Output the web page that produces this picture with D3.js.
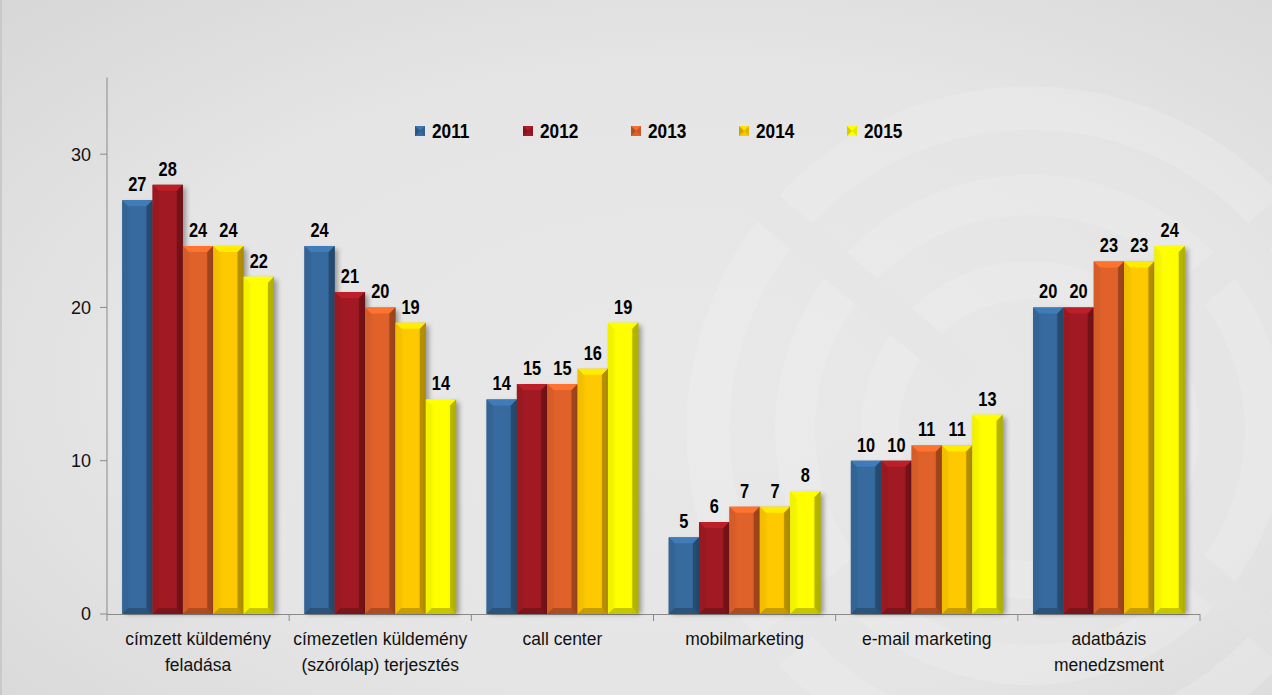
<!DOCTYPE html>
<html><head><meta charset="utf-8">
<script src="https://cdnjs.cloudflare.com/ajax/libs/d3/7.8.5/d3.min.js"></script>
<style>
html,body{margin:0;padding:0;background:#e6e6e6;overflow:hidden}
svg{display:block}
</style></head>
<body>
<svg id="chart" width="1272" height="695"></svg>
<script>
const categories = [
  ["címzett küldemény","feladása"],
  ["címezetlen küldemény","(szórólap) terjesztés"],
  ["call center"],
  ["mobilmarketing"],
  ["e-mail marketing"],
  ["adatbázis","menedzsment"]
];
const years = ["2011","2012","2013","2014","2015"];
const v2011 = [27,24,14,5,10,20];
const v2012 = [28,21,15,6,10,20];
const v2013 = [24,20,15,7,11,23];
const v2014 = [24,19,16,7,11,23];
const v2015 = [22,14,19,8,13,24];
const series = [v2011,v2012,v2013,v2014,v2015];
const colors = ["#376a9e","#a11a23","#e0622a","#ffc900","#ffff00"];
const yTicks = [0,10,20,30];

const W=1272,H=695;
const svg=d3.select("#chart");
const defs=svg.append("defs");

// background
const bg=defs.append("radialGradient").attr("id","bg").attr("cx","0.55").attr("cy","0.55").attr("r","0.75");
bg.append("stop").attr("offset","0").attr("stop-color","#e8e8e8");
bg.append("stop").attr("offset","0.6").attr("stop-color","#e5e5e5");
bg.append("stop").attr("offset","1").attr("stop-color","#d8d8d8");
svg.append("rect").attr("width",W).attr("height",H).attr("fill","url(#bg)");
svg.append("rect").attr("x",0).attr("y",0).attr("width",2).attr("height",H).attr("fill","#c9c9c9");

// faint logo rings
const logo=svg.append("g").attr("opacity",0.3);
const cx=1030, cy=430;
[[322,43],[235,40],[150,38]].forEach(([r,w])=>{
  logo.append("circle").attr("cx",cx).attr("cy",cy).attr("r",r).attr("fill","none")
    .attr("stroke","#f2f2f2").attr("stroke-width",w);
});
[[-1,-1],[1,-1],[-1,1],[1,1]].forEach(([dx,dy])=>{
  logo.append("line").attr("x1",cx+dx*60).attr("y1",cy+dy*50).attr("x2",cx+dx*330).attr("y2",cy+dy*280)
    .attr("stroke","#e6e6e6").attr("stroke-width",34);
});

// scales
const x0=d3.scaleBand().domain(d3.range(categories.length)).range([107,1200]).paddingInner(0).paddingOuter(0);
const x1=d3.scaleBand().domain(d3.range(years.length)).range([0,x0.bandwidth()]).paddingOuter(0.5).paddingInner(0.0);
const y=d3.scaleLinear().domain([0,35]).range([614,77.5]);

// shadow filter
const f=defs.append("filter").attr("id","sh").attr("x","-50%").attr("y","-10%").attr("width","200%").attr("height","120%");
f.append("feGaussianBlur").attr("stdDeviation",2.5);

// gradients per series
colors.forEach((c,i)=>{
  const g=defs.append("linearGradient").attr("id","g"+i).attr("x1","0").attr("x2","1").attr("y1","0").attr("y2","0");
  const cc=d3.color(c);
  g.append("stop").attr("offset","0").attr("stop-color",cc.darker(0.2));
  g.append("stop").attr("offset","0.3").attr("stop-color",c);
  g.append("stop").attr("offset","0.75").attr("stop-color",c);
  g.append("stop").attr("offset","1").attr("stop-color",cc.darker(0.8));
});

// y axis
const ax=svg.append("g").attr("font-family","Liberation Sans, Arial, sans-serif");
ax.append("line").attr("x1",107).attr("x2",107).attr("y1",y(35)).attr("y2",y(0)).attr("stroke","#8a8a8a").attr("stroke-width",1);
yTicks.forEach(t=>{
  ax.append("line").attr("x1",100).attr("x2",107).attr("y1",y(t)).attr("y2",y(t)).attr("stroke","#8a8a8a");
  ax.append("text").attr("x",91).attr("y",y(t)).attr("dy","0.36em").attr("text-anchor","end")
    .attr("font-size",18).attr("fill","#111").text(t);
});
// x axis
ax.append("line").attr("x1",107).attr("x2",1200).attr("y1",y(0)+0.5).attr("y2",y(0)+0.5).attr("stroke","#8a8a8a");
d3.range(categories.length+1).forEach(i=>{
  const xx=107+i*x0.bandwidth();
  ax.append("line").attr("x1",xx).attr("x2",xx).attr("y1",y(0)).attr("y2",y(0)+7).attr("stroke","#8a8a8a");
});
categories.forEach((lines,i)=>{
  const t=ax.append("text").attr("x",x0(i)+x0.bandwidth()/2).attr("y",645).attr("text-anchor","middle")
    .attr("font-size",17.5).attr("fill","#111");
  lines.forEach((l,j)=>t.append("tspan").attr("x",x0(i)+x0.bandwidth()/2).attr("dy",j?26:0).text(l));
});

function narrowText(sel,x,yy,txt,size,anchor){
  return sel.append("g").attr("transform",`translate(${x},${yy}) scale(0.82,1)`)
    .append("text").attr("x",0).attr("y",0).attr("text-anchor",anchor)
    .attr("font-family","Liberation Sans, Arial, sans-serif")
    .attr("font-weight","bold").attr("font-size",size).attr("fill","#000").text(txt);
}

// bars
const bars=svg.append("g");
categories.forEach((c,ci)=>{
  series.forEach((s,si)=>{
    const v=s[ci];
    const bx=x0(ci)+x1(si), bw=x1.bandwidth(), by=y(v), bh=y(0)-y(v);
    const col=d3.color(colors[si]);
    const g=bars.append("g");
    g.append("rect").attr("x",bx+3).attr("y",by+3).attr("width",bw).attr("height",bh-3)
      .attr("fill","#000").attr("opacity",0.35).attr("filter","url(#sh)");
    g.append("rect").attr("x",bx).attr("y",by).attr("width",bw).attr("height",bh).attr("fill","url(#g"+si+")");
    const b=6;
    g.append("polygon").attr("points",[[bx,by],[bx+bw,by],[bx+bw-b,by+b],[bx+b,by+b]].join(" "))
      .attr("fill",col.brighter(0.45));
    g.append("polygon").attr("points",[[bx,by],[bx+b,by+b],[bx+b,by+bh-b],[bx,by+bh]].join(" "))
      .attr("fill",col.darker(0.15)).attr("opacity",0.7);
    g.append("polygon").attr("points",[[bx+bw,by],[bx+bw,by+bh],[bx+bw-b,by+bh-b],[bx+bw-b,by+b]].join(" "))
      .attr("fill",col.darker(1.1)).attr("opacity",0.85);
    g.append("polygon").attr("points",[[bx,by+bh],[bx+b,by+bh-b],[bx+bw-b,by+bh-b],[bx+bw,by+bh]].join(" "))
      .attr("fill",col.darker(0.9)).attr("opacity",0.8);
    narrowText(g,bx+bw/2,by-9,v,20,"middle");
  });
});

// legend
const lg=svg.append("g");
years.forEach((yr,i)=>{
  const lx=415+i*108, ly=126;
  const col=d3.color(colors[i]);
  lg.append("rect").attr("x",lx).attr("y",ly).attr("width",10).attr("height",10).attr("fill",colors[i]);
  lg.append("polygon").attr("points",[[lx,ly],[lx+10,ly],[lx+5,ly+5]].join(" ")).attr("fill",col.brighter(0.3));
  lg.append("polygon").attr("points",[[lx,ly],[lx,ly+10],[lx+5,ly+5]].join(" ")).attr("fill",col.darker(0.6));
  lg.append("polygon").attr("points",[[lx+10,ly],[lx+10,ly+10],[lx+5,ly+5]].join(" ")).attr("fill",col.darker(0.3));
  narrowText(lg,lx+17,ly+12,yr,21,"start");
});
</script>
</body></html>
